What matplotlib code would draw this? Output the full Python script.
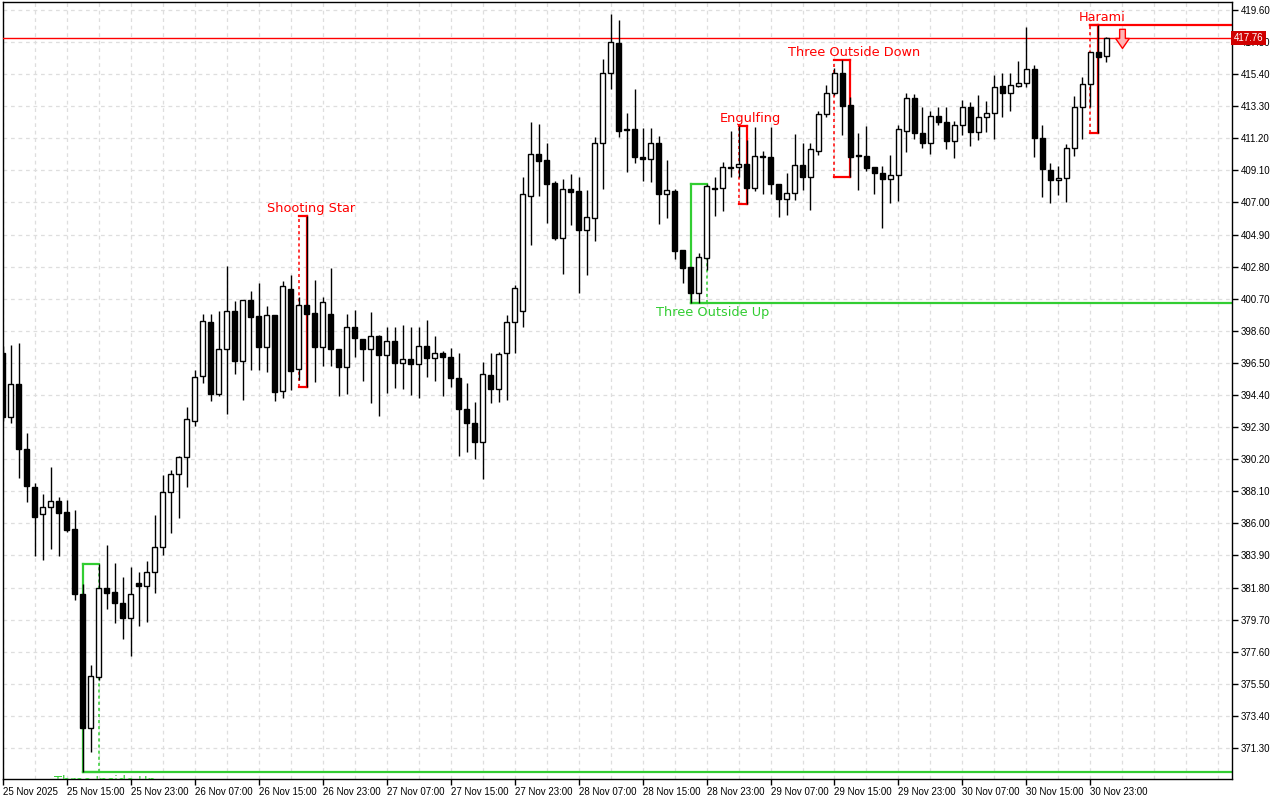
import numpy as np
import matplotlib.pyplot as plt
from matplotlib.path import Path

# hourly candles starting 25 Nov 2025 07:00
opens = [397.15, 392.96, 395.12, 390.87, 388.38, 386.62, 387.07, 387.47, 386.75, 385.63,
         381.38, 372.61, 375.95, 381.77, 381.51, 380.79, 379.81, 382.10, 381.90, 382.82,
         384.46, 388.06, 389.23, 390.35, 392.70, 395.65, 399.18, 394.47, 397.41, 399.90,
         396.63, 400.62, 399.57, 397.55, 399.64, 394.67, 401.34, 396.11, 400.29, 399.77,
         397.55, 399.70, 397.41, 396.24, 398.85, 398.07, 397.41, 398.26, 397.02, 397.94,
         396.50, 396.76, 396.43, 397.61, 396.83, 397.15, 396.89, 395.52, 393.49, 392.57,
         391.33, 395.71, 394.80, 397.15, 399.18, 399.90, 407.43, 410.18, 409.78, 408.28,
         404.68, 407.89, 407.75, 405.20, 405.99, 410.90, 415.48, 417.44, 411.81, 411.81,
         409.98, 409.85, 410.90, 407.56, 407.75, 403.89, 402.78, 401.08, 403.37, 407.95,
         407.95, 409.33, 409.33, 409.52, 407.95, 410.05, 409.98, 408.21, 407.23, 407.62,
         409.46, 408.67, 410.37, 412.79, 414.17, 415.48, 413.38, 410.11, 410.05, 409.33,
         408.93, 408.54, 408.80, 411.68, 413.84, 411.55, 410.90, 412.66, 412.27, 411.03,
         412.07, 413.25, 411.62, 412.60, 412.86, 414.63, 414.17, 414.63, 414.82, 415.74,
         411.22, 409.13, 408.47, 408.61, 410.57, 413.25, 414.76, 416.85, 416.59]
highs = [397.61, 397.68, 397.81, 391.92, 388.64, 387.92, 389.69, 387.73, 387.53, 386.88,
         382.03, 376.73, 383.34, 384.59, 383.41, 382.49, 383.15, 382.82, 383.54, 386.55,
         389.17, 389.50, 390.41, 393.62, 396.04, 399.70, 399.70, 399.90, 402.85, 400.56,
         400.62, 401.21, 401.73, 400.23, 399.64, 401.86, 402.26, 400.82, 406.12, 401.93,
         400.82, 402.72, 397.41, 399.70, 399.97, 398.07, 399.84, 398.33, 398.85, 398.85,
         398.98, 398.85, 398.85, 399.31, 398.26, 397.28, 397.48, 397.15, 395.19, 393.95,
         396.56, 397.15, 397.22, 399.64, 401.60, 408.67, 412.27, 412.14, 410.90, 408.41,
         408.54, 408.87, 408.67, 407.82, 411.29, 416.39, 419.34, 418.95, 412.86, 414.43,
         411.88, 411.88, 411.35, 409.78, 407.89, 403.89, 402.78, 403.70, 408.21, 408.67,
         409.65, 411.68, 412.01, 411.09, 411.94, 410.37, 411.94, 408.21, 408.93, 411.48,
         410.90, 410.90, 412.99, 414.69, 415.80, 416.33, 413.91, 411.55, 412.01, 409.33,
         409.39, 410.11, 412.07, 414.17, 414.10, 413.25, 412.99, 413.25, 413.25, 412.34,
         413.71, 413.58, 414.04, 413.64, 415.35, 415.48, 415.48, 416.26, 418.49, 416.00,
         412.07, 409.59, 409.39, 410.83, 413.97, 415.22, 416.85, 418.62, 417.83]
lows = [392.70, 392.57, 388.97, 387.40, 383.87, 383.61, 384.33, 383.87, 385.44, 380.99,
        369.73, 371.04, 375.75, 380.40, 379.48, 378.43, 377.32, 379.29, 379.55, 381.45,
        383.93, 385.37, 386.35, 388.38, 392.37, 395.19, 394.01, 394.34, 393.16, 395.78,
        394.08, 396.04, 396.04, 395.91, 394.01, 394.21, 394.73, 395.39, 394.93, 395.25,
        396.30, 396.30, 394.34, 394.47, 396.89, 395.32, 393.88, 393.03, 394.53, 394.86,
        394.80, 394.40, 394.21, 395.58, 395.32, 394.34, 394.93, 390.41, 390.67, 390.22,
        388.91, 393.88, 393.95, 394.08, 397.15, 398.85, 404.22, 407.43, 405.66, 404.55,
        402.32, 405.53, 401.08, 402.26, 404.48, 407.89, 414.43, 411.29, 409.00, 409.59,
        408.41, 408.34, 405.59, 405.99, 403.30, 401.73, 400.42, 400.42, 402.58, 406.12,
        406.45, 408.67, 408.67, 406.90, 407.75, 407.56, 407.56, 406.05, 406.18, 407.17,
        407.82, 406.51, 410.11, 412.60, 414.04, 411.42, 408.67, 407.82, 409.06, 407.56,
        405.33, 406.97, 407.10, 410.31, 411.16, 410.57, 410.18, 412.07, 410.50, 409.91,
        411.42, 410.70, 411.09, 411.62, 411.16, 412.60, 412.99, 414.56, 414.56, 409.98,
        407.36, 406.97, 407.49, 407.03, 410.05, 411.16, 413.25, 411.55, 416.20]
closes = [392.96, 395.12, 390.87, 388.45, 386.42, 387.07, 387.47, 386.68, 385.57, 381.38,
          372.61, 376.01, 381.77, 381.45, 380.79, 379.81, 381.38, 381.90, 382.82, 384.46,
          388.06, 389.23, 390.35, 392.83, 395.58, 399.25, 394.47, 397.41, 399.90, 396.63,
          400.62, 399.51, 397.55, 399.64, 394.60, 401.54, 395.97, 400.29, 399.70, 397.55,
          400.49, 397.41, 396.24, 398.85, 398.13, 397.41, 398.26, 397.02, 397.94, 396.50,
          396.76, 396.43, 397.61, 396.83, 397.15, 396.89, 395.52, 393.49, 392.57, 391.33,
          395.78, 394.80, 397.09, 399.18, 401.41, 407.56, 410.18, 409.72, 408.21, 404.68,
          407.89, 407.69, 405.20, 406.05, 410.90, 415.48, 417.51, 411.68, 411.75, 409.98,
          409.85, 410.90, 407.56, 407.82, 403.83, 402.72, 401.08, 403.43, 408.08, 407.89,
          409.33, 409.26, 409.52, 407.95, 410.05, 409.98, 408.21, 407.23, 407.62, 409.46,
          408.67, 410.50, 412.79, 414.17, 415.48, 413.32, 409.98, 410.05, 409.26, 408.93,
          408.54, 408.80, 411.81, 413.84, 411.55, 410.90, 412.66, 412.27, 411.03, 412.07,
          413.25, 411.62, 412.60, 412.86, 414.56, 414.17, 414.69, 414.82, 415.74, 411.22,
          409.19, 408.47, 408.61, 410.57, 413.25, 414.76, 416.85, 416.52, 417.76]

date_labels = ["25 Nov 2025", "25 Nov 15:00", "25 Nov 23:00", "26 Nov 07:00", "26 Nov 15:00",
               "26 Nov 23:00", "27 Nov 07:00", "27 Nov 15:00", "27 Nov 23:00", "28 Nov 07:00",
               "28 Nov 15:00", "28 Nov 23:00", "29 Nov 07:00", "29 Nov 15:00", "29 Nov 23:00",
               "30 Nov 07:00", "30 Nov 15:00", "30 Nov 23:00"]
price_ticks = [419.60, 417.50, 415.40, 413.30, 411.20, 409.10, 407.00, 404.90, 402.80, 400.70,
               398.60, 396.50, 394.40, 392.30, 390.20, 388.10, 386.00, 383.90, 381.80, 379.70,
               377.60, 375.50, 373.40, 371.30]

pattern_names = ["Three Inside Up", "Shooting Star", "Three Outside Up", "Engulfing",
                 "Three Outside Down", "Harami"]
pattern_first = [10, 37, 86, 92, 104, 136]
pattern_last = [12, 38, 88, 93, 106, 137]
pattern_bull = [True, False, True, False, False, False]
pattern_level = [True, False, True, False, False, True]

bid = 417.76

red = "#ff0000"
green = "#32cd32"
grid_grey = "#dedede"

# hollow down arrow used as signal marker
arrow = Path([(-0.15, -0.2), (0.15, -0.2), (0.15, -0.68), (0.36, -0.68), (0, -1.2),
              (-0.36, -0.68), (-0.15, -0.68), (-0.15, -0.2)], closed=True)


def plot_chart():
    fig = plt.figure(figsize=(12.8, 8), dpi=100)
    ax = fig.add_axes([0.0021, 0.02625, 0.9604, 0.97125])
    xmin, xmax = 0.05, 153.7
    ax.set_xlim(xmin, xmax)
    ax.set_ylim(369.27, 420.12)

    x = np.arange(len(opens))
    o, h, l, c = map(np.array, (opens, highs, lows, closes))
    up = c >= o

    ax.vlines(x, l, h, color="black", lw=1, zorder=3)
    ax.bar(x, np.maximum(np.abs(c - o), 0.01), bottom=np.minimum(o, c), width=0.55,
           color=np.where(up, "white", "black"), edgecolor="black", lw=1, zorder=4)

    for name, i0, i1, bull, level in zip(pattern_names, pattern_first, pattern_last,
                                          pattern_bull, pattern_level):
        col = green if bull else red
        top = h[i0:i1 + 1].max()
        bot = l[i0:i1 + 1].min()
        ax.plot([i0, i1], [top, top], color=col, lw=1.6, zorder=2)
        ax.plot([i0, i1], [bot, bot], color=col, lw=1.6, zorder=2)
        if bull:
            ax.plot([i0, i0], [bot, top], color=col, lw=1.6, zorder=2)
            ax.plot([i1, i1], [bot, top], color=col, lw=1.1, ls=(0, (2, 2)), zorder=2)
        else:
            ax.plot([i0, i0], [bot, top], color=col, lw=1.1, ls=(0, (2, 2)), zorder=2)
            ax.plot([i1, i1], [bot, top], color=col, lw=1.6, zorder=2)
        if level:
            lvl = bot if bull else top
            ax.plot([i0, xmax], [lvl, lvl], color=col, lw=1.6, zorder=2)
        if bull:
            ax.annotate(name, (i1 + 0.8, bot), xytext=(0, -2), textcoords="offset points",
                        ha="center", va="top", color=col, fontsize=9.3, clip_on=True, zorder=6)
        else:
            ax.annotate(name, (i1 + 0.5, top), xytext=(0, 1), textcoords="offset points",
                        ha="center", va="bottom", color=col, fontsize=9.3, clip_on=True, zorder=6)

    # sell signal after the harami
    ax.plot(len(opens) + 1, h[pattern_first[-1]:pattern_last[-1] + 1].max(), marker=arrow,
            ms=33, mfc="#ffb4b4", mec=red, mew=1, zorder=6)

    # bid line
    ax.axhline(bid, color=red, lw=1, zorder=2.6)
    ax.text(1.0015, bid, f"{bid:.2f}", transform=ax.get_yaxis_transform(), ha="left",
            va="center", color="white", fontsize=7, family="Liberation Sans", zorder=10,
            clip_on=False, bbox=dict(boxstyle="square,pad=0.25", fc="#d00000", ec="none"))

    ax.yaxis.tick_right()
    ax.set_yticks(price_ticks)
    ax.set_yticklabels([f"{p:.2f}" for p in price_ticks])
    ax.set_xticks(np.arange(0, len(opens), 8))
    ax.set_xticklabels(date_labels, ha="left")
    ax.set_xticks(np.arange(4, xmax, 4), minor=True)
    ax.tick_params(which="major", length=4, width=1, labelsize=7, pad=2)
    ax.tick_params(which="minor", length=0)
    for lab in ax.get_xticklabels() + ax.get_yticklabels():
        lab.set_family("Liberation Sans")

    ax.grid(axis="x", which="both", color=grid_grey, lw=0.9, ls=(0, (3, 3)), zorder=0)
    ax.grid(axis="y", which="major", color=grid_grey, lw=0.9, ls=(0, (3, 3)), zorder=0)
    ax.set_axisbelow(True)
    for sp in ax.spines.values():
        sp.set_linewidth(1)
        sp.set_color("black")

    fig.savefig("out.png", dpi=100)


if __name__ == '__main__':
    plot_chart()
